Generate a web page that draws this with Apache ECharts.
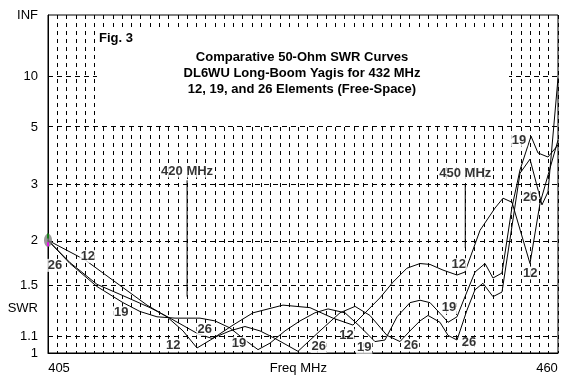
<!DOCTYPE html>
<html><head><meta charset="utf-8">
<script src="https://cdn.jsdelivr.net/npm/echarts@6/dist/echarts.min.js"></script>
<style>html,body{margin:0;padding:0;background:#fff}#c{width:583px;height:387px}</style>
</head><body><div id="c"></div>
<script>
// ---- data (frequency MHz, SWR) ----
const curve12 = [[405.0,2.00],[409.0,1.76],[412.76,1.50],[415.68,1.33],[417.83,1.24],[419.56,1.14],[421.07,1.03],[422.79,1.09],[424.95,1.18],[427.11,1.27],[430.34,1.33],[433.25,1.31],[435.73,1.23],[437.89,1.18],[440.8,1.39],[442.2,1.53],[443.71,1.67],[445.12,1.72],[446.2,1.71],[447.6,1.65],[449.11,1.60],[449.97,1.63],[451.59,2.14],[453.2,2.50],[454.07,2.69],[455.04,2.61],[456.98,1.72],[458.06,2.59],[460.0,4.40]];
const curve19 = [[405.0,2.00],[407.37,1.72],[410.28,1.49],[413.09,1.35],[414.92,1.28],[416.75,1.24],[418.7,1.23],[421.39,1.23],[423.0,1.21],[424.63,1.16],[426.24,1.08],[427.65,1.02],[428.94,1.06],[430.56,1.14],[432.18,1.21],[433.79,1.27],[435.2,1.30],[437.03,1.27],[438.65,1.17],[440.26,1.07],[441.34,1.08],[442.64,1.24],[444.04,1.35],[445.12,1.37],[446.2,1.35],[447.49,1.25],[448.14,1.20],[449.11,1.24],[449.97,1.40],[451.05,1.63],[452.13,1.72],[452.99,1.57],[453.96,1.62],[455.04,2.52],[455.9,3.36],[457.09,4.58],[457.84,3.90],[458.92,3.76],[460.0,4.20]];
const curve26 = [[405.0,2.00],[407.37,1.73],[410.28,1.51],[412.76,1.42],[416.0,1.31],[418.16,1.23],[419.77,1.17],[421.18,1.12],[422.69,1.09],[424.63,1.14],[426.24,1.17],[427.86,1.14],[429.48,1.09],[431.96,1.01],[434.33,1.14],[436.49,1.27],[438.11,1.32],[439.72,1.25],[441.56,1.11],[442.96,1.07],[444.04,1.14],[445.12,1.21],[445.98,1.25],[447.27,1.20],[448.14,1.11],[449.11,1.08],[450.18,1.29],[451.05,1.46],[451.91,1.52],[452.99,1.40],[453.96,1.44],[455.9,3.27],[456.98,3.69],[458.27,2.56],[458.92,2.82],[460.0,9.7]];
const curveLabelText = ['12','26','19','12','26','19','26','12','19','26','12','19','26','19','26','12'];
const curveLabelFreq = [409.3,405.75,412.9,418.5,421.9,425.6,434.2,437.2,439.1,444.15,449.3,448.25,450.4,455.8,457.0,457.0];
const curveLabelSwr  = [1.80,1.70,1.27,1.047,1.15,1.06,1.04,1.11,1.034,1.047,1.71,1.31,1.065,4.40,2.71,1.62];
const markerFreq = [420, 450];
const markerLow = [1.40, 1.90];
const markerHigh = [3.09, 3.00];
const markerText = ['420 MHz', '450 MHz'];
const markerTextSwr = [3.33, 3.27];
const swrTicks = [1, 1.1, 1.3, 1.5, 2, 3, 5, 10, Infinity];
const swrTickText = ['1', '1.1', 'SWR', '1.5', '2', '3', '5', '10', 'INF'];
const swrGrid = [1.1, 1.5, 2, 3, 5, 10];
const xTickValues = [405, 432, 460];
const xTickText = ['405', 'Freq MHz', '460'];
const titleLines = ['Comparative 50-Ohm SWR Curves', 'DL6WU Long-Boom Yagis for 432 MHz', '12, 19, and 26 Elements (Free-Space)'];
const figText = 'Fig. 3';
const startSwr = 2.0;

// ---- scale: SWR -> reflection coefficient ----
function rho(s) { return s === Infinity ? 1 : (s - 1) / (s + 1); }
const conv = arr => arr.map(p => [p[0], rho(p[1])]);
const tickMap = {};
swrTicks.forEach((s, i) => { tickMap[rho(s).toFixed(5)] = swrTickText[i]; });

const FONT = 'Liberation Sans';
const lineStyle = { color: '#000', width: 1 };
const chart = echarts.init(document.getElementById('c'), null, { renderer: 'canvas' });

const series = [
  { type: 'line', data: conv(curve12), symbol: 'none', lineStyle, z: 2,
    markLine: { silent: true, symbol: ['none', 'none'], label: { show: false },
      lineStyle: { color: '#000', width: 1, type: [5, 4] },
      data: swrGrid.map(s => ({ yAxis: rho(s) })) } },
  { type: 'line', data: conv(curve19), symbol: 'none', lineStyle, z: 2 },
  { type: 'line', data: conv(curve26), symbol: 'none', lineStyle, z: 2 }
];
markerFreq.forEach((f, i) => {
  series.push({ type: 'line', data: [[f, rho(markerLow[i])], [f, rho(markerHigh[i])]], symbol: 'none', lineStyle, z: 2 });
});
const labelData = curveLabelText.map((t, i) => [curveLabelFreq[i], rho(curveLabelSwr[i]), t])
  .concat(markerText.map((t, i) => [markerFreq[i], rho(markerTextSwr[i]), t]));
series.push({ type: 'scatter', data: labelData, symbolSize: 0, z: 4,
  label: { show: true, position: 'inside', formatter: p => p.data[2], color: '#000',
    fontFamily: FONT, fontSize: 13, fontWeight: 'bold', backgroundColor: '#fff', padding: [0, 1, 0, 1] } });
// start-point marker
series.push({ type: 'scatter', data: [[405, rho(startSwr)]], symbol: 'circle', symbolSize: [8, 13],
  itemStyle: { color: '#808080' }, z: 5 });
series.push({ type: 'scatter', data: [[405, rho(startSwr * 1.03)]], symbol: 'rect', symbolSize: [2, 5],
  itemStyle: { color: '#008000' }, z: 6 });
series.push({ type: 'scatter', data: [[405, rho(startSwr * 0.975)]], symbol: 'rect', symbolSize: [2, 4],
  itemStyle: { color: '#ff00ff' }, z: 6 });

chart.setOption({
  animation: false,
  backgroundColor: '#fff',
  grid: { left: 48, right: 25, top: 15, bottom: 34, show: true, borderColor: '#000', borderWidth: 1, backgroundColor: 'transparent' },
  xAxis: {
    type: 'value', min: 405, max: 460, interval: 1,
    axisLine: { show: true, lineStyle: { color: '#000' } },
    axisTick: { show: false },
    splitLine: { show: true, lineStyle: { color: '#000', width: 1, type: [4, 4] } },
    axisLabel: {
      customValues: xTickValues, margin: 9, color: '#000', fontFamily: FONT, fontSize: 13,
      formatter: v => {
        const i = xTickValues.indexOf(v);
        if (i === 0) return '{l|' + xTickText[i] + '}';
        if (i === xTickValues.length - 1) return '{r|' + xTickText[i] + '}';
        return xTickText[i];
      },
      rich: { l: { padding: [0, 0, 0, 22], fontSize: 13, fontFamily: FONT, color: '#000' },
              r: { padding: [0, 22, 0, 0], fontSize: 13, fontFamily: FONT, color: '#000' } }
    }
  },
  yAxis: {
    type: 'value', min: 0, max: 1,
    axisLine: { show: true, lineStyle: { color: '#000' } },
    axisTick: { show: false },
    splitLine: { show: false },
    axisLabel: {
      customValues: swrTicks.map(rho), margin: 10, color: '#000', fontFamily: FONT, fontSize: 13,
      formatter: v => tickMap[v.toFixed(5)] || ''
    }
  },
  graphic: [{
    type: 'group', z: 10,
    children: [
      { type: 'rect', shape: { x: 97, y: 28, width: 412, height: 96 }, style: { fill: '#fff' }, z: 10 },
      { type: 'text', z: 11, style: { text: figText, x: 99, y: 38, align: 'left', verticalAlign: 'middle', fontSize: 13, fontWeight: 'bold', fontFamily: FONT, fill: '#000' } },
      { type: 'text', z: 11, style: { text: titleLines[0], x: 302, y: 57, align: 'center', verticalAlign: 'middle', fontSize: 13, fontWeight: 'bold', fontFamily: FONT, fill: '#000' } },
      { type: 'text', z: 11, style: { text: titleLines[1], x: 302, y: 73, align: 'center', verticalAlign: 'middle', fontSize: 13, fontWeight: 'bold', fontFamily: FONT, fill: '#000' } },
      { type: 'text', z: 11, style: { text: titleLines[2], x: 302, y: 89, align: 'center', verticalAlign: 'middle', fontSize: 13, fontWeight: 'bold', fontFamily: FONT, fill: '#000' } }
    ]
  }],
  series
});
</script></body></html>
